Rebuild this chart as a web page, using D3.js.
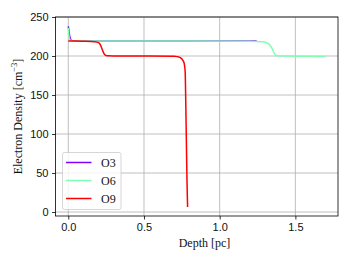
<!DOCTYPE html>
<html>
<head>
<meta charset="utf-8">
<script src="https://cdn.jsdelivr.net/npm/d3@7"></script>
<style>
  body { margin: 0; background: #fff; }
  svg { font-family: 'Liberation Serif', 'DejaVu Serif', serif; }
</style>
</head>
<body>
<svg class="chart" width="352" height="264"></svg>
<script>
// depth [pc] and electron density [cm^-3]
const o3Depth = [0, 0.003, 0.007, 0.011, 0.015, 0.02, 0.03, 0.06, 0.2, 0.5, 0.8, 1.0, 1.244];
const o3Dens = [238, 234, 228, 224, 221.5, 220.2, 219.5, 219.3, 219.2, 219.2, 219.2, 219.2, 219.1];
const o6Depth = [0, 0.003, 0.008, 0.015, 0.03, 0.3, 0.8, 1.2, 1.28, 1.31, 1.33, 1.345, 1.355, 1.365, 1.375, 1.39, 1.45, 1.6, 1.698];
const o6Dens = [236, 228, 222, 220, 219.3, 219.2, 219.1, 218.8, 218.2, 217, 214.5, 210, 205.5, 202, 200.6, 200.1, 199.9, 199.6, 199.3];
const o9Depth = [0, 0.05, 0.1, 0.15, 0.19, 0.205, 0.215, 0.225, 0.235, 0.245, 0.26, 0.3, 0.5, 0.7, 0.72, 0.74, 0.755, 0.765, 0.772, 0.776, 0.78, 0.784, 0.788];
const o9Dens = [219.2, 219.2, 219, 218.7, 217.8, 216.2, 213, 208, 203.5, 201.2, 200.2, 200, 199.9, 199.6, 199.2, 198, 195, 191, 180, 140, 90, 40, 6.5];
const seriesNames = ['O3', 'O6', 'O9'];
const seriesColors = ['#8000ff', '#80ffb4', '#ff0000'];
const xTicks = [0, 0.5, 1.0, 1.5];
const yTicks = [0, 50, 100, 150, 200, 250];

const series = [
  { name: seriesNames[0], x: o3Depth, y: o3Dens },
  { name: seriesNames[1], x: o6Depth, y: o6Dens },
  { name: seriesNames[2], x: o9Depth, y: o9Dens },
];

const margin = { left: 55.5, right: 14, top: 17, bottom: 48 };
const [width, height] = [352, 264];
const svg = d3.select('.chart');

const x = d3.scaleLinear().domain([-0.0845, 1.7815]).range([margin.left, width - margin.right]);
const y = d3.scaleLinear().domain([-5.1, 250]).range([height - margin.bottom, margin.top]);

// grid
svg.append('g').selectAll('line').data(xTicks).enter().append('line')
  .attr('x1', (d) => x(d)).attr('x2', (d) => x(d))
  .attr('y1', y.range()[0]).attr('y2', y.range()[1])
  .attr('stroke', '#b0b0b0').attr('stroke-width', 0.8);
svg.append('g').selectAll('line').data(yTicks).enter().append('line')
  .attr('y1', (d) => y(d)).attr('y2', (d) => y(d))
  .attr('x1', x.range()[0]).attr('x2', x.range()[1])
  .attr('stroke', '#b0b0b0').attr('stroke-width', 0.8);

// lines
const line = d3.line().curve(d3.curveMonotoneX).x((d) => x(d[0])).y((d) => y(d[1]));
svg.append('g').selectAll('path').data(series).enter().append('path')
  .attr('d', (s) => line(s.x.map((v, i) => [v, s.y[i]])))
  .attr('fill', 'none')
  .attr('stroke', (s, i) => seriesColors[i])
  .attr('stroke-width', 1.5);

// frame
svg.append('rect')
  .attr('x', x.range()[0]).attr('y', y.range()[1])
  .attr('width', x.range()[1] - x.range()[0]).attr('height', y.range()[0] - y.range()[1])
  .attr('fill', 'none').attr('stroke', '#000').attr('stroke-width', 0.8);

// axes
const xAxis = svg.append('g').attr('transform', `translate(0,${y.range()[0]})`)
  .call(d3.axisBottom(x).tickValues(xTicks).tickFormat(d3.format('.1f')).tickSize(3.5).tickPadding(3.5));
const yAxis = svg.append('g').attr('transform', `translate(${x.range()[0]},0)`)
  .call(d3.axisLeft(y).tickValues(yTicks).tickSize(3.5).tickPadding(3.5));
[xAxis, yAxis].forEach((g) => {
  g.select('.domain').remove();
  g.selectAll('.tick line').attr('stroke', '#000').attr('stroke-width', 0.8);
  g.selectAll('.tick text').attr('fill', '#111').style('font-size', '11px').style('font-family', null);
});

// axis labels
svg.append('text')
  .attr('x', x(0.9)).attr('y', 247)
  .attr('text-anchor', 'middle').attr('font-size', 12).attr('fill', '#111')
  .text('Depth [pc]');
const yl = svg.append('text')
  .attr('transform', `translate(22,${(y.range()[0] + y.range()[1]) / 2}) rotate(-90)`)
  .attr('text-anchor', 'middle').attr('font-size', 12).attr('fill', '#111');
yl.append('tspan').text('Electron Density [cm');
yl.append('tspan').attr('dy', -5).attr('font-size', 8.5).text('\u22123');
yl.append('tspan').attr('dy', 5).text(']');

// legend
const legend = svg.append('g').attr('transform', 'translate(62.5,152.5)');
legend.append('rect')
  .attr('width', 58.5).attr('height', 57).attr('rx', 2)
  .attr('fill', '#fff').attr('fill-opacity', 0.8)
  .attr('stroke', '#cccccc').attr('stroke-width', 0.8);
const item = legend.selectAll('g.item').data(series).enter().append('g')
  .attr('class', 'item')
  .attr('transform', (s, i) => `translate(0,${10 + i * 18})`);
item.append('line')
  .attr('x1', 3.5).attr('x2', 29)
  .attr('stroke', (s, i) => seriesColors[i]).attr('stroke-width', 1.5);
item.append('text')
  .attr('x', 38.5).attr('y', 4)
  .attr('font-size', 12).attr('fill', '#111')
  .text((s) => s.name);
</script>
</body>
</html>
